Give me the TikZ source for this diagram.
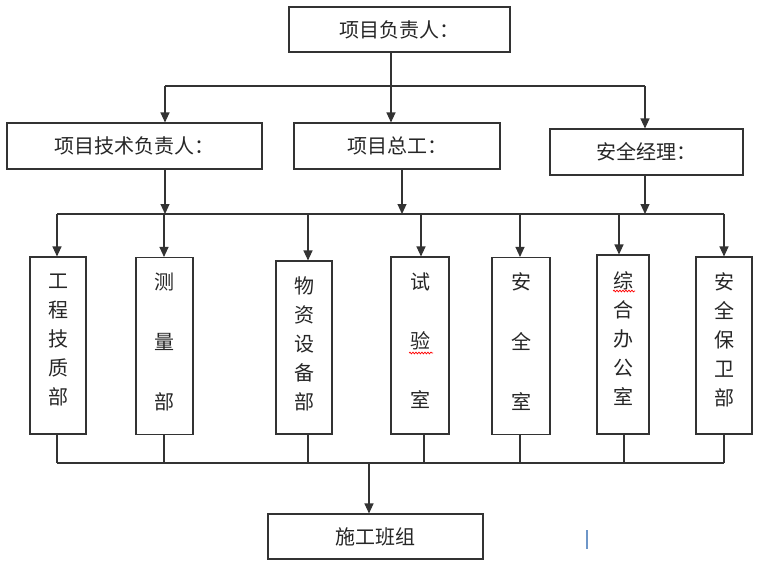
\documentclass[tikz,border=0pt]{standalone}
\usepackage{fontspec}
\newfontfamily\cjk{Noto Sans CJK SC}
\usetikzlibrary{arrows.meta,decorations.pathmorphing}
\definecolor{linec}{gray}{0.2}
\definecolor{txtc}{gray}{0.15}
\definecolor{cursorc}{RGB}{110,150,200}
\begin{document}
\begin{tikzpicture}[x=1pt,y=-1pt,
  hbox/.style={draw=linec,line width=1.1pt,inner sep=0pt,font=\cjk\fontsize{20}{24}\selectfont,text=txtc},
  vbox/.style={draw=linec,line width=1.1pt,inner sep=0pt,minimum height=177pt},
  vtext/.style={align=center,inner sep=0pt,font=\cjk\fontsize{20}{29}\selectfont,text=txtc},
  conn/.style={draw=linec,line width=1.1pt},
  arr/.style={conn,-{Triangle[width=9pt,length=10pt]}},
  squiggle/.style={red,line width=0.7pt,decorate,decoration={snake,segment length=3pt,amplitude=0.9pt}}]
\fill[white] (0,0) rectangle (760,570);
\useasboundingbox (0,0) rectangle (760,570);

% top levels
\node[hbox,minimum width=221pt,minimum height=45pt] (top) at (399.5,29.5) {项目负责人：};
\node[hbox,minimum width=255pt,minimum height=46pt] (b1) at (134.5,146) {项目技术负责人：};
\node[hbox,minimum width=206pt,minimum height=46pt] (b2) at (397,146) {项目总工：};
\node[hbox,minimum width=193pt,minimum height=46pt] (b3) at (646.5,152) {安全经理：};

% departments
\node[vbox,minimum width=56pt] (dA) at (58,345.5) {};
\node[vbox,minimum width=57pt] (dB) at (164.5,346) {};
\node[vbox,minimum width=56pt,minimum height=173pt] (dC) at (304,347.5) {};
\node[vbox,minimum width=58pt] (dD) at (420,345.5) {};
\node[vbox,minimum width=58pt] (dE) at (521,346) {};
\node[vbox,minimum width=52pt,minimum height=179pt] (dF) at (623,344.5) {};
\node[vbox,minimum width=56pt] (dG) at (724,345.5) {};

\node[vtext] (tA) at (58,340) {工\\程\\技\\质\\部};
\node[vtext] (tB) at (164.5,342) {测\\[31pt]量\\[31pt]部};
\node[vtext] (tC) at (304,344) {物\\资\\设\\备\\部};
\node[vtext] (tD) at (420,341) {试\\[30pt]验\\[30pt]室};
\node[vtext] (tE) at (521,342) {安\\[31pt]全\\[31pt]室};
\node[vtext] (tF) at (623,338.5) {综\\合\\办\\公\\室};
\node[vtext] (tG) at (724,340) {安\\全\\保\\卫\\部};

% bottom
\node[hbox,minimum width=215pt,minimum height=45pt] (bot) at (375.5,536.5) {施工班组};

% level 1 connectors
\coordinate (s0) at (391,86);
\coordinate (sL) at (165,86);
\coordinate (sR) at (645,86);
\draw[arr] (top.south -| s0) -- (b2.north -| s0);
\draw[conn] (sL) -- (sR);
\draw[arr] (sL) -- (b1.north -| sL);
\draw[arr] (sR) -- (b3.north -| sR);

% level 2 connectors
\coordinate (m1) at (165,214);
\coordinate (m2) at (402,214);
\coordinate (m3) at (645,214);
\draw[arr] (b1.south -| m1) -- (m1);
\draw[arr] (b2.south -| m2) -- (m2);
\draw[arr] (b3.south -| m3) -- (m3);
\coordinate (mA) at (57,214);
\coordinate (mB) at (164,214);
\coordinate (mC) at (308,214);
\coordinate (mD) at (421,214);
\coordinate (mE) at (520,214);
\coordinate (mF) at (619,214);
\coordinate (mG) at (724,214);
\draw[conn] (mA) -- (mG);
\draw[arr] (mA) -- (dA.north -| mA);
\draw[arr] (mB) -- (dB.north -| mB);
\draw[arr] (mC) -- (dC.north -| mC);
\draw[arr] (mD) -- (dD.north -| mD);
\draw[arr] (mE) -- (dE.north -| mE);
\draw[arr] (mF) -- (dF.north -| mF);
\draw[arr] (mG) -- (dG.north -| mG);

% level 3 connectors
\coordinate (nA) at (57,463);
\coordinate (nB) at (164,463);
\coordinate (nC) at (308,463);
\coordinate (nD) at (424,463);
\coordinate (nE) at (520,463);
\coordinate (nF) at (624,463);
\coordinate (nG) at (724,463);
\coordinate (n0) at (369,463);
\draw[conn] (nA) -- (nG);
\draw[conn] (dA.south -| nA) -- (nA);
\draw[conn] (dB.south -| nB) -- (nB);
\draw[conn] (dC.south -| nC) -- (nC);
\draw[conn] (dD.south -| nD) -- (nD);
\draw[conn] (dE.south -| nE) -- (nE);
\draw[conn] (dF.south -| nF) -- (nF);
\draw[conn] (dG.south -| nG) -- (nG);
\draw[arr] (n0) -- (bot.north -| n0);

% spell-check underlines and cursor
\draw[squiggle] (613,291) -- (635,291);
\draw[squiggle] (409,353) -- (433,353);
\draw[cursorc,line width=1.3pt] (587,530) -- (587,549);
\end{tikzpicture}
\end{document}
